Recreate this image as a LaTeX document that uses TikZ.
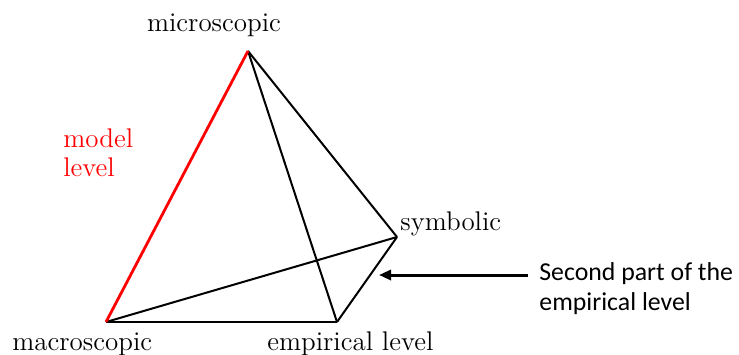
\documentclass[tikz,border=0pt]{standalone}
\usepackage{fontspec}
\usepackage{tikz}
\usetikzlibrary{arrows.meta}
\newfontfamily\notefont{Carlito}
\definecolor{modelred}{RGB}{255, 0, 0}

\begin{document}
\begin{tikzpicture}[x=0.5pt, y=-0.5pt,
   edge/.style={draw=black, line width=1pt, line join=round},
   modeledge/.style={draw=modelred, line width=1.4pt},
   vertlabel/.style={font=\fontsize{13.5}{14.5}\selectfont, inner sep=0,
                     text=black},
   modellabel/.style={font=\fontsize{13.5}{14.5}\selectfont, inner sep=0,
                      text=modelred, align=left},
   notelabel/.style={font=\notefont\fontsize{12.9}{15}\selectfont,
                     inner sep=0, align=left},
   notearrow/.style={-{Triangle[length=6pt, width=5pt]}, line width=1.5pt}
  ]
  \useasboundingbox (0, 0) rectangle (739, 354);

  % corners of the tetrahedron
  \coordinate (Mi) at (248, 51);
  \coordinate (Ma) at (106, 322);
  \coordinate (Em) at (337, 322);
  \coordinate (Sy) at (397, 237);

  \foreach \B/\E in {Mi/Em, Mi/Sy, Ma/Em, Ma/Sy, Em/Sy} {
    \draw[edge] (\B) -- (\E);
  }
  \draw[modeledge] (Mi) -- (Ma);

  % labels
  \node (LMi) at (214, 31) [vertlabel, anchor=base] {microscopic};
  \node (LMa) at (12, 350) [vertlabel, anchor=base west] {macroscopic};
  \node (LEm) at (267, 350) [vertlabel, anchor=base west] {empirical level};
  \node (LSy) at (400, 230) [vertlabel, anchor=base west] {symbolic};
  \node (LMo) at (63, 128) [modellabel, anchor=north west] {model\\level};

  \node (Note) at (539, 262) [notelabel, anchor=north west]
        {Second part of the\\empirical level};
  \coordinate (ArrTail) at (528, 275);
  \coordinate (ArrTip) at (379, 275);
  \draw[notearrow] (ArrTail) -- (ArrTip);

\end{tikzpicture}
\end{document}
